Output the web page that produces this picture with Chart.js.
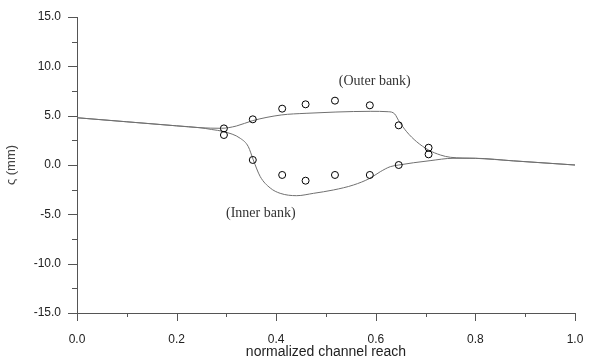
<!DOCTYPE html>
<html>
<head>
<meta charset="utf-8">
<script src="https://cdn.jsdelivr.net/npm/chart.js@4"></script>
<style>
  html, body { margin: 0; padding: 0; background: #fff; }
  #wrap { width: 592px; height: 362px; }
</style>
</head>
<body>
<div id="wrap"><canvas id="chart" width="592" height="362"></canvas></div>
<script>
// measured points (circles)
const obsX = [0.295, 0.353, 0.412, 0.459, 0.518, 0.588, 0.646, 0.706];
const outerObs = [3.71, 4.63, 5.71, 6.15, 6.52, 6.05, 4.02, 1.75];
const innerObs = [3.04, 0.51, -1.01, -1.59, -1.01, -1.01, 0.0, 1.08];

// computed water surface, outer bank
const outerX = [0.0, 0.1, 0.2, 0.247, 0.29, 0.32, 0.353, 0.41, 0.46, 0.52, 0.59, 0.625, 0.638, 0.646, 0.662, 0.682, 0.706, 0.73, 0.75, 0.80, 0.876, 1.0];
const outerY = [4.79, 4.38, 3.97, 3.78, 3.72, 3.95, 4.5, 5.07, 5.24, 5.37, 5.44, 5.40, 5.17, 4.49, 3.37, 2.36, 1.52, 1.01, 0.78, 0.68, 0.42, 0.0];

// computed water surface, inner bank
const innerX = [0.0, 0.1, 0.2, 0.247, 0.27, 0.295, 0.328, 0.344, 0.354, 0.368, 0.388, 0.408, 0.441, 0.475, 0.515, 0.555, 0.588, 0.609, 0.629, 0.646, 0.676, 0.709, 0.755, 0.80, 0.876, 1.0];
const innerY = [4.79, 4.38, 3.97, 3.78, 3.6, 3.38, 2.7, 1.86, 0.51, -1.18, -2.33, -2.87, -3.11, -2.87, -2.53, -2.03, -1.35, -0.68, -0.17, 0.0, 0.23, 0.44, 0.68, 0.68, 0.42, 0.0];

const xTicks = [0.0, 0.2, 0.4, 0.6, 0.8, 1.0];
const yTicks = [-15, -10, -5, 0, 5, 10, 15];

const labels = [
  { text: "(Outer bank)", x: 0.598, y: 8.5 },
  { text: "(Inner bank)", x: 0.369, y: -4.86 }
];

const toPts = (xs, ys) => xs.map((x, i) => ({ x: x, y: ys[i] }));

const font = { family: "'Liberation Sans', Arial, sans-serif", size: 12 };

// axis tick marks (major + minor), drawn outward like the original
const tickMarks = {
  id: "tickMarks",
  afterDraw(chart) {
    const ctx = chart.ctx, xs = chart.scales.x, ys = chart.scales.y;
    const area = chart.chartArea;
    ctx.save();
    ctx.strokeStyle = "#555";
    ctx.lineWidth = 1;
    ctx.beginPath();
    for (let i = 0; i <= 10; i++) {
      const px = Math.round(xs.getPixelForValue(i / 10)) + 0.5;
      const len = i % 2 === 0 ? 8 : 4;
      ctx.moveTo(px, area.bottom);
      ctx.lineTo(px, area.bottom + len);
    }
    for (let i = 0; i <= 12; i++) {
      const v = -15 + i * 2.5;
      const py = Math.round(ys.getPixelForValue(v)) + 0.5;
      const len = i % 2 === 0 ? 9 : 5;
      ctx.moveTo(area.left, py);
      ctx.lineTo(area.left - len, py);
    }
    ctx.stroke();
    ctx.restore();
  }
};

const bankLabels = {
  id: "bankLabels",
  afterDatasetsDraw(chart) {
    const ctx = chart.ctx, xs = chart.scales.x, ys = chart.scales.y;
    ctx.save();
    ctx.font = "14px 'Liberation Serif', 'Times New Roman', serif";
    ctx.fillStyle = "#333";
    ctx.textAlign = "center";
    ctx.textBaseline = "middle";
    labels.forEach(l => ctx.fillText(l.text, xs.getPixelForValue(l.x), ys.getPixelForValue(l.y)));
    ctx.restore();
  }
};

new Chart(document.getElementById("chart").getContext("2d"), {
  type: "scatter",
  data: {
    datasets: [
      {
        label: "Outer bank",
        data: toPts(outerX, outerY),
        showLine: true,
        cubicInterpolationMode: "monotone",
        borderColor: "#707070",
        borderWidth: 1,
        pointRadius: 0,
        order: 2
      },
      {
        label: "Inner bank",
        data: toPts(innerX, innerY),
        showLine: true,
        cubicInterpolationMode: "monotone",
        borderColor: "#707070",
        borderWidth: 1,
        pointRadius: 0,
        order: 2
      },
      {
        label: "Outer measured",
        data: toPts(obsX, outerObs),
        pointRadius: 3.5,
        pointBorderColor: "#000",
        pointBackgroundColor: "rgba(0,0,0,0)",
        pointBorderWidth: 1,
        order: 1
      },
      {
        label: "Inner measured",
        data: toPts(obsX, innerObs),
        pointRadius: 3.5,
        pointBorderColor: "#000",
        pointBackgroundColor: "rgba(0,0,0,0)",
        pointBorderWidth: 1,
        order: 1
      }
    ]
  },
  options: {
    responsive: false,
    animation: false,
    layout: { padding: { top: 17, right: 17, left: 0, bottom: 0 } },
    plugins: {
      legend: { display: false },
      tooltip: { enabled: false }
    },
    scales: {
      x: {
        type: "linear",
        min: 0,
        max: 1,
        afterFit: s => { s.height = 49; s.paddingLeft = 0; s.paddingRight = 0; },
        afterBuildTicks: s => { s.ticks = xTicks.map(v => ({ value: v })); },
        grid: { display: false, drawTicks: false },
        border: { display: true, color: "#555", width: 1 },
        ticks: {
          padding: 19,
          color: "#222",
          font: font,
          maxRotation: 0,
          callback: v => v.toFixed(1)
        },
        title: {
          display: true,
          text: "normalized channel reach",
          color: "#222",
          font: { family: font.family, size: 14 },
          padding: { top: 0, bottom: 1 }
        }
      },
      y: {
        type: "linear",
        min: -15,
        max: 15,
        afterFit: s => { s.width = 77; s.paddingTop = 0; s.paddingBottom = 0; },
        afterBuildTicks: s => { s.ticks = yTicks.map(v => ({ value: v })); },
        grid: { display: false, drawTicks: false },
        border: { display: true, color: "#555", width: 1 },
        ticks: {
          padding: 16,
          color: "#222",
          font: font,
          callback: v => v.toFixed(1)
        },
        title: {
          display: true,
          text: "ς (mm)",
          color: "#444",
          font: { family: font.family, size: 13 },
          padding: { top: 4, bottom: 0 }
        }
      }
    }
  },
  plugins: [tickMarks, bankLabels]
});
</script>
</body>
</html>
